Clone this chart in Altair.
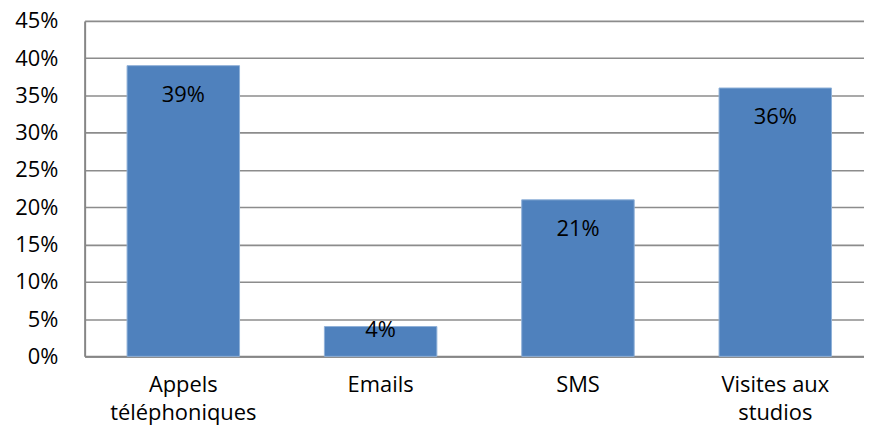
import altair as alt
import pandas as pd

categories = ["Appels\ntéléphoniques", "Emails", "SMS", "Visites aux\nstudios"]
values = [0.39, 0.04, 0.21, 0.36]
y_ticks = [0, 0.05, 0.10, 0.15, 0.20, 0.25, 0.30, 0.35, 0.40, 0.45]

df = pd.DataFrame({"cat": categories, "v": values})

FONT = "Open Sans"

x_scale = alt.Scale(paddingInner=0.43, paddingOuter=0.215, range=[0, 793])
x_axis = alt.Axis(labelAngle=0, labelExpr="split(datum.label, '\\n')",
                  labelFontSize=22, labelFont=FONT, labelColor="#000",
                  labelLineHeight=28, labelPadding=18, ticks=False,
                  labelOverlap=False, labelBaseline="top",
                  domainColor="#868686", domainWidth=2, grid=False)

y_scale = alt.Scale(domain=[0, 0.45], nice=False)
y_axis = alt.Axis(values=y_ticks, format=".0%", labelFontSize=22, labelFont=FONT,
                  labelColor="#000", ticks=False, labelPadding=27,
                  labelOverlap=False, labelFlush=False,
                  domainColor="#868686", domainWidth=2,
                  gridColor="#8c8c8c", gridWidth=1.6)

bars = alt.Chart(df).mark_bar(color="#4F81BD", stroke="#8fb0d8", strokeWidth=1).encode(
    x=alt.X("cat:N", sort=categories, title=None, scale=x_scale, axis=x_axis),
    y=alt.Y("v:Q", title=None, scale=y_scale, axis=y_axis),
)

labels = alt.Chart(df).transform_calculate(
    ly="datum.v > 0.1 ? datum.v - 0.039 : datum.v - 0.0053"
).mark_text(font=FONT, fontSize=22, color="#000", baseline="middle").encode(
    x=alt.X("cat:N", sort=categories, title=None, scale=x_scale, axis=x_axis),
    y=alt.Y("ly:Q", title=None, scale=y_scale, axis=y_axis),
    text=alt.Text("v:Q", format=".0%"),
)

chart = alt.layer(bars, labels).properties(
    width=783, height=337,
    autosize=alt.AutoSizeParams(type="none"),
    padding={"left": 77, "top": 12, "right": 0, "bottom": 69},
).configure_view(stroke=None).configure_axis(labelOverlap=False).configure(background="white")

chart.save("out.html", embed_options={"renderer": "svg", "actions": False})
